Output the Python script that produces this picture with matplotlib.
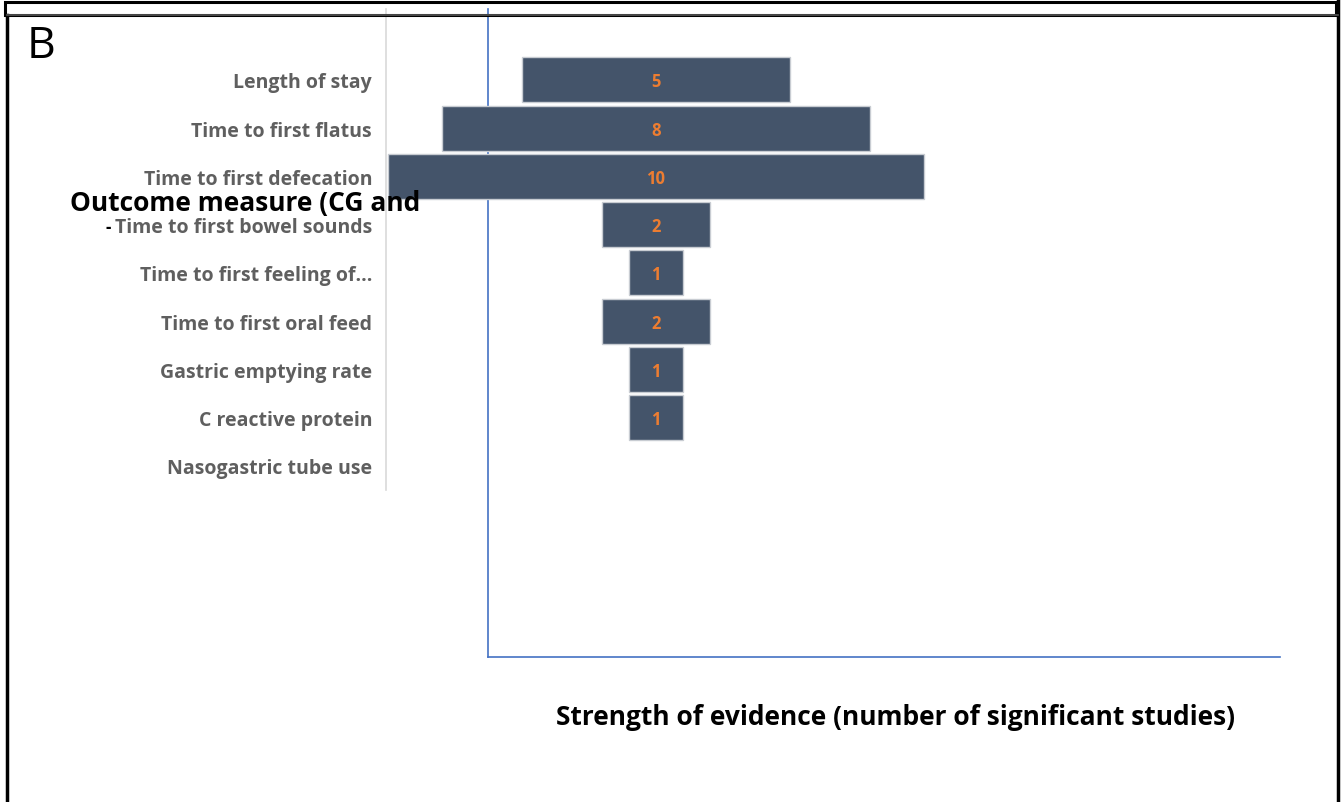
import matplotlib.pyplot as plt
from matplotlib.lines import Line2D
from matplotlib.patches import Rectangle

# data
outcomes = ["Length of stay", "Time to first flatus", "Time to first defecation",
            "Time to first bowel sounds", "Time to first feeling of...",
            "Time to first oral feed", "Gastric emptying rate",
            "C reactive protein", "Nasogastric tube use"]
studies = [5, 8, 10, 2, 1, 2, 1, 1, 0]

W, H = 1343, 803
fig = plt.figure(figsize=(W / 100, H / 100), dpi=100)
FONT = "Open Sans"


def fx(px):
    return px / W


def fy(py):
    return 1 - py / H


# frame lines
fig.add_artist(Rectangle((fx(5), fy(16)), fx(1336) - fx(5), fy(3) - fy(16),
                         transform=fig.transFigure, fill=False, ec="black", lw=2.2))
fig.add_artist(Line2D([fx(7), fx(7)], [fy(16), fy(803)], transform=fig.transFigure,
                      color="black", lw=2.5))
fig.add_artist(Line2D([fx(1338), fx(1338)], [fy(0), fy(803)], transform=fig.transFigure,
                      color="black", lw=2.5))
fig.add_artist(Line2D([fx(7), fx(1338)], [fy(16), fy(16)], transform=fig.transFigure,
                      color="#555555", lw=1.2))

# empty blue-axis chart behind
ax2 = fig.add_axes([fx(488), fy(658), fx(1280) - fx(488), fy(10) - fy(658)])
ax2.set_xticks([])
ax2.set_yticks([])
ax2.patch.set_alpha(0)
for s in ["top", "right"]:
    ax2.spines[s].set_visible(False)
for s in ["left", "bottom"]:
    ax2.spines[s].set_color("#4472C4")
    ax2.spines[s].set_linewidth(1.2)

# funnel bar chart
ax = fig.add_axes([fx(386), fy(491), fx(1280) - fx(386), fy(10) - fy(491)])
ax.patch.set_alpha(0)
ypos = list(range(len(outcomes)))
lefts = [-v / 2 for v in studies]
edges = [1 if v > 0 else 0 for v in studies]
ax.barh(ypos, studies, left=lefts, height=0.93, color="#44546A",
        edgecolor="#c8ccd2", linewidth=edges)
for y, v in zip(ypos, studies):
    if v > 0:
        ax.text(0, y + 0.03, str(v), ha="center", va="center", color="#ED7D31",
                fontsize=12, fontweight="bold", family=FONT)
unit = 53.6
ax.set_xlim((386 - 656) / unit, (1280 - 656) / unit)
ax.set_ylim(8.5, 8.5 - (491 - 10) / 48.25)
ax.set_yticks(ypos)
ax.set_yticklabels(outcomes, fontsize=14, fontweight="bold", color="#5f5f5f",
                   family=FONT)
ax.tick_params(axis="y", length=0, pad=10)
ax.set_xticks([])
for s in ["top", "right", "bottom"]:
    ax.spines[s].set_visible(False)
ax.spines["left"].set_color("#d9d9d9")
ax.spines["left"].set_linewidth(1.2)

# texts (the y-axis title is clipped in the original, so it overlaps the labels)
fig.text(fx(27), fy(47), "B", fontsize=32, family=FONT, ha="left", va="center")
fig.text(fx(70), fy(203), "Outcome measure (CG and", fontsize=19, fontweight="bold",
         family=FONT, ha="left", va="center")
fig.text(fx(106), fy(228), "-", fontsize=12, fontweight="bold", family=FONT,
         ha="left", va="center")
fig.text(fx(895), fy(718), "Strength of evidence (number of significant studies)",
         fontsize=19, fontweight="bold", family=FONT, ha="center", va="center")

fig.savefig("out.png", dpi=100)
